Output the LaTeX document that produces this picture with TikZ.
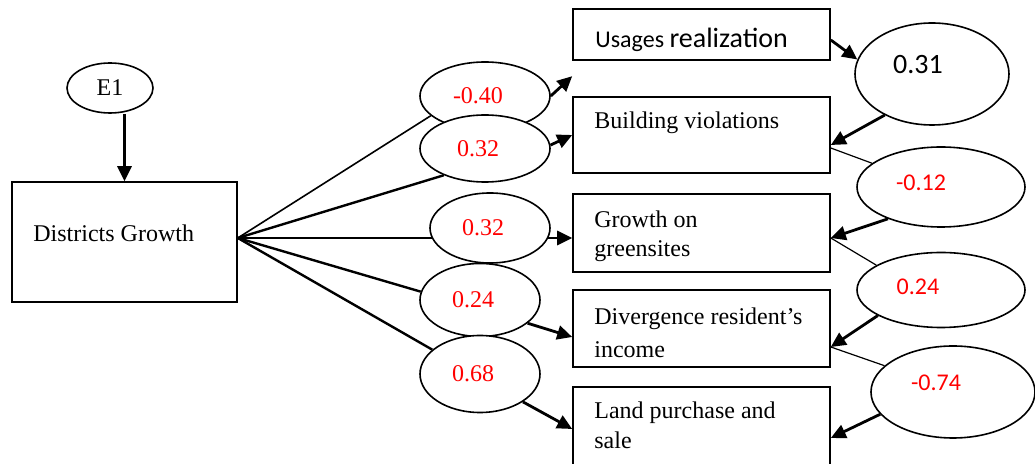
\documentclass[tikz,border=0pt]{standalone}
\usepackage{fontspec}
\setmainfont{Liberation Serif}
\newfontfamily\calibri{Carlito}
\usetikzlibrary{arrows.meta,shapes.geometric,calc}
\definecolor{coefred}{HTML}{FF0000}
\tikzset{
  var/.style={draw,line width=0.8pt,inner sep=0pt},
  lat/.style={draw,ellipse,fill=white,line width=0.8pt,inner sep=0pt,
              font=\fontsize{12}{14}\selectfont},
  lnum/.style={text=coefred,inner sep=0pt,xshift=-3.5pt,font=\fontsize{12}{14}\selectfont},
  rnum/.style={text=coefred,inner sep=0pt,font=\calibri\fontsize{12}{14}\selectfont},
  coef/.style={lat,label={[lnum]center:#1}},
  txt/.style={inner sep=0pt,align=left,font=\fontsize{12}{15}\selectfont},
  ar/.style={-{Triangle[length=7.5pt,width=7pt]},line width=1.4pt},
  ln/.style={line width=1.2pt},
  thin/.style={line width=0.6pt},
}
\begin{document}
\begin{tikzpicture}[x=0.5pt,y=-0.5pt]
  \useasboundingbox (0,0) rectangle (1035,464);
  % left side
  \node[lat,minimum width=43pt,minimum height=25pt] (e1) at (110,88) {E1};
  \node[var,minimum width=112.5pt,minimum height=60pt] (dg) at (124.5,242) {};
  \node[txt,anchor=base west] (dgt) at (33,242) {Districts Growth};
  \coordinate (o) at ([yshift=2pt]dg.east);
  % indicator boxes
  \node[var,minimum width=128.5pt,minimum height=25.5pt] (ur) at (701.5,34.5) {};
  \node[var,minimum width=128.5pt,minimum height=38pt] (bv) at (701.5,135) {};
  \node[var,minimum width=128.5pt,minimum height=39pt] (gg) at (701.5,233) {};
  \node[var,minimum width=128.5pt,minimum height=38.5pt] (dr) at (701.5,328.5) {};
  \node[var,minimum width=128.5pt,minimum height=46pt] (lp) at (701.5,433) {};
  \node[inner sep=0pt,anchor=base west] (urt) at (595,48)
    {\calibri\fontsize{12}{14}\selectfont Usages \fontsize{14}{16}\selectfont realization};
  \node[txt,anchor=north west] (bvt) at (594,111.5) {Building violations};
  \node[txt,anchor=north west] (ggt) at (594,210.5) {Growth on\\[-0.5pt]greensites};
  \node[txt,anchor=north west] (drt) at (594,307.5) {Divergence resident’s\\[1.5pt]income};
  \node[txt,anchor=north west] (lpt) at (594,401.5) {Land purchase and\\sale};
  % loadings
  \node[coef=-0.40,minimum width=65pt,minimum height=34pt] (c1) at (485,96) {};
  \node[coef=0.32,minimum width=65pt,minimum height=33.5pt] (c2) at (485,148.5) {};
  \node[coef=0.32,minimum width=60pt,minimum height=35pt] (c3) at (490,228) {};
  \node[coef=0.24,minimum width=60pt,minimum height=36.5pt] (c4) at (480,300) {};
  \node[coef=0.68,minimum width=60pt,minimum height=38.5pt] (c5) at (480,374) {};
  % error terms
  \node[lat,minimum width=77pt,minimum height=51pt,
        label={[inner sep=0pt,xshift=-7pt,yshift=4.5pt,font=\calibri\fontsize{14}{16}\selectfont]center:0.31}] (r1) at (932,74) {};
  \node[lat,minimum width=84pt,minimum height=40pt,
        label={[rnum,xshift=-10pt,yshift=2pt]center:-0.12}] (r2) at (941,187) {};
  \node[lat,minimum width=84pt,minimum height=37.5pt,
        label={[rnum,xshift=-11.5pt,yshift=1.5pt]center:0.24}] (r3) at (941,290) {};
  \node[lat,minimum width=82pt,minimum height=46pt,
        label={[rnum,xshift=-8.5pt,yshift=4.5pt]center:-0.74}] (r4) at (953,392) {};
  \coordinate (t1) at ([yshift=10pt]bv.north west);
  % connectors
  \draw[ar] (e1.south -| dg.north) -- (dg.north);
  \draw[line width=0.8pt] (o) -- (c1.200);
  \draw[ln] (o) -- (c2.213);
  \draw[ln] (o) -- ([xshift=1.5pt]o -| c3.west);
  \draw[ln] (o) -- (c4.172);
  \draw[ln] (o) -- (c5.153);
  \draw[ar] (c1.east) -- (t1);
  \draw[ar] (c2.3) -- (bv.west);
  \draw[ar] ([xshift=-1.5pt]c3.east |- o) -- (gg.west |- o);
  \draw[ar] (c4.334) -- ([yshift=-4.25pt]dr.west);
  \draw[ar] (c5.327) -- ([yshift=2pt]lp.west);
  \draw[ar] ([yshift=-2.75pt]ur.east) -- (r1.169);
  \draw[ar] (r1.221) -- ([yshift=-5pt]bv.east);
  \draw[thin] ([yshift=-6.5pt]bv.east) -- (r2.161);
  \draw[ar] (r2.211) -- ([yshift=-2.5pt]gg.east);
  \draw[thin] ([yshift=-2.5pt]gg.east) -- (r3.159);
  \draw[ar] (r3.202) -- ([yshift=-9.25pt]dr.east);
  \draw[thin] ([yshift=-9.25pt]dr.east) -- (r4.159);
  \draw[ar] (r4.197) -- ([yshift=-2.5pt]lp.east);
\end{tikzpicture}
\end{document}
